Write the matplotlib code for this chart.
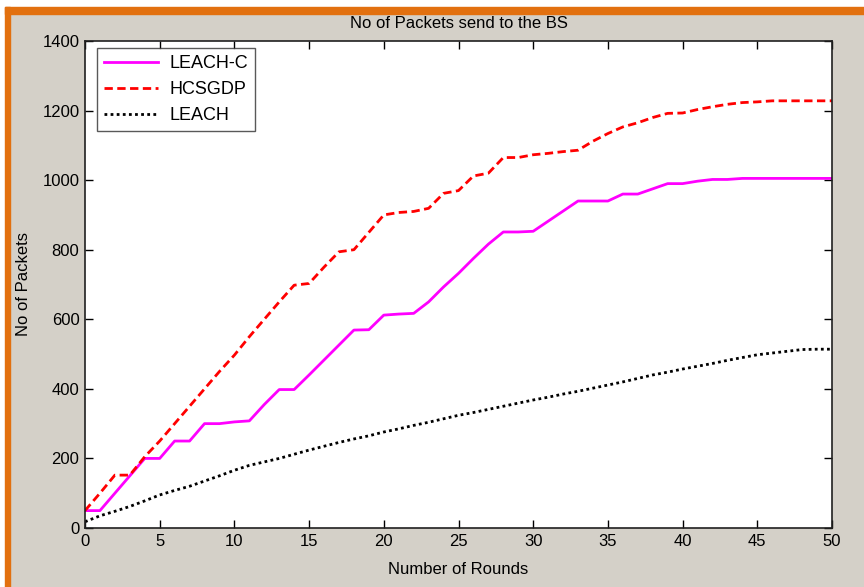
import matplotlib
matplotlib.use("Agg")
import matplotlib.pyplot as plt
from matplotlib.patches import Rectangle

plt.rcParams["font.family"] = ["Liberation Sans Narrow", "Liberation Sans", "DejaVu Sans"]

# rounds 0..50
rounds = list(range(51))

leach_c = [50, 50, 100, 150, 200, 200, 250, 250, 300, 300,
           305, 308, 355, 398, 398, 440, 483, 526, 569, 570,
           612, 615, 617, 650, 693, 732, 775, 816, 851, 851,
           853, 882, 911, 940, 940, 940, 960, 960, 975, 990,
           990, 997, 1002, 1002, 1005, 1005, 1005, 1005, 1005, 1005,
           1005]

hcsgdp = [50, 100, 152, 152, 205, 250, 300, 350, 400, 450,
          497, 550, 600, 650, 698, 703, 750, 794, 800, 850,
          900, 907, 910, 919, 962, 970, 1012, 1020, 1065, 1065,
          1073, 1077, 1082, 1086, 1112, 1134, 1153, 1165, 1180, 1192,
          1193, 1203, 1211, 1218, 1223, 1225, 1228, 1228, 1228, 1228,
          1228]

leach = [18, 35, 48, 62, 78, 95, 108, 120, 135, 150,
         166, 180, 190, 200, 212, 224, 235, 246, 256, 265,
         276, 285, 295, 304, 314, 324, 332, 341, 350, 359,
         368, 376, 385, 393, 402, 411, 420, 430, 440, 448,
         457, 465, 473, 482, 490, 498, 503, 508, 513, 514,
         514]

W, H = 864, 587
fig = plt.figure(figsize=(W / 100, H / 100), dpi=100, facecolor="#d4d0c8")

# orange frame of the screenshot (top and left), white margin outside
fig.patches.append(Rectangle((0, 1 - 7 / H), 1, 7 / H, transform=fig.transFigure,
                             color="white", zorder=-2))
fig.patches.append(Rectangle((0, 0), 5 / W, 1, transform=fig.transFigure,
                             color="white", zorder=-2))
fig.patches.append(Rectangle((5 / W, 1 - 14 / H), 1, 7 / H, transform=fig.transFigure,
                             color="#e2700f", zorder=-1))
fig.patches.append(Rectangle((5 / W, 0), 5 / W, 1 - 7 / H, transform=fig.transFigure,
                             color="#e2700f", zorder=-1))

ax = fig.add_axes([85 / W, 1 - 528 / H, (832 - 85) / W, (528 - 41) / H])
ax.set_facecolor("white")

ax.plot(rounds, leach_c, color="#ff00ff", linestyle="-", linewidth=2.0, label="LEACH-C")
ax.plot(rounds, hcsgdp, color="#ff0000", linestyle=(0, (3, 1.6)), linewidth=2.0, label="HCSGDP")
ax.plot(rounds, leach, color="black", linestyle=(0, (1, 1.2)), linewidth=2.0, label="LEACH")

ax.set_xlim(0, 50)
ax.set_ylim(0, 1400)
ax.set_xticks(range(0, 51, 5))
ax.set_yticks(range(0, 1401, 200))
ax.tick_params(direction="in", length=6, width=1, top=True, right=True,
               labelsize=12, pad=4)
for s in ax.spines.values():
    s.set_linewidth(1.2)
    s.set_color("#202020")

ax.set_title("No of Packets send to the BS", fontsize=12, pad=9.5)
ax.set_xlabel("Number of Rounds", fontsize=12, labelpad=10)
ax.set_ylabel("No of Packets", fontsize=12, labelpad=8)

leg = ax.legend(loc="upper left", bbox_to_anchor=(12 / 747, 1 - 7 / 487),
                fontsize=13, frameon=True, fancybox=False, handlelength=3.0,
                borderpad=0.4, labelspacing=0.5, handletextpad=0.6,
                borderaxespad=0)
leg.get_frame().set_edgecolor("#303030")
leg.get_frame().set_linewidth(1.0)

fig.savefig("out.png", dpi=100, facecolor=fig.get_facecolor())
